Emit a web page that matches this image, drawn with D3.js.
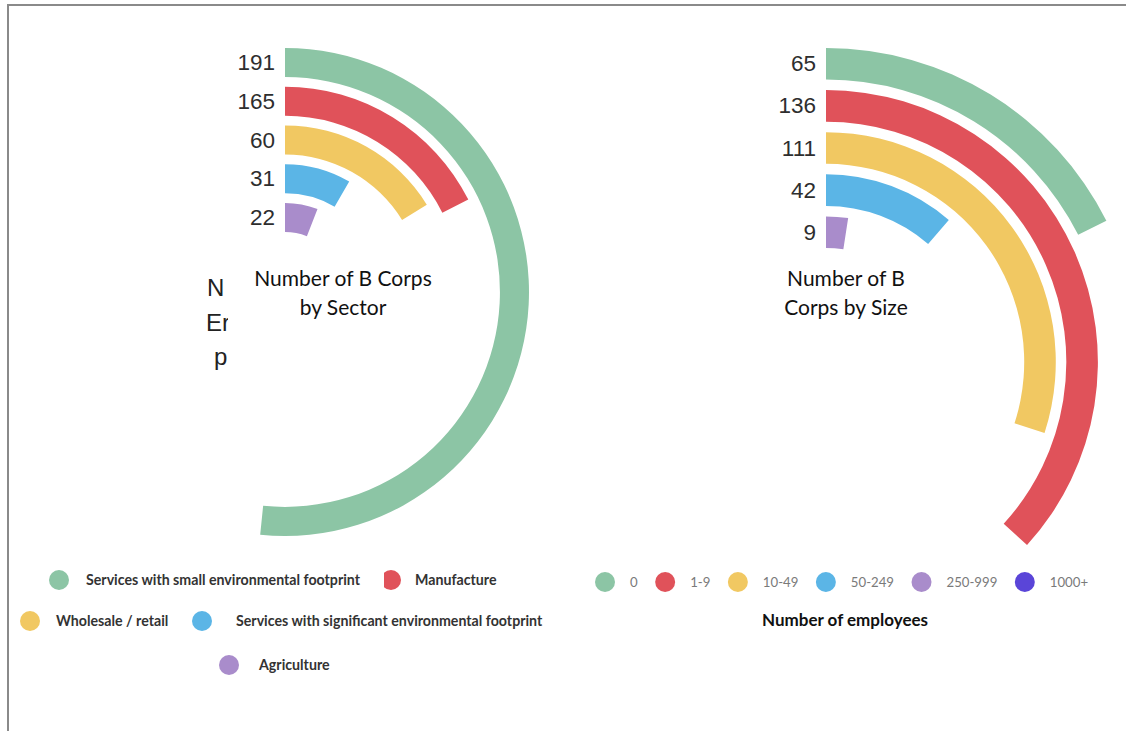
<!DOCTYPE html>
<html>
<head>
<meta charset="utf-8">
<script src="https://cdn.jsdelivr.net/npm/d3@7"></script>
<style>
  html, body { margin: 0; padding: 0; background: #fff; }
  svg { display: block; }
</style>
</head>
<body>
<svg id="chart" width="1126" height="731"></svg>
<script>
// ---- data ----
const sectorNames = ["Services with small environmental footprint", "Manufacture", "Wholesale / retail", "Services with significant environmental footprint", "Agriculture"];
const sectorLabels = ["191", "165", "60", "31", "22"];
// arc lengths as drawn in the picture (the red arc is drawn much shorter than its label)
const sectorValues = [191, 65, 60, 31, 22];

const sizeNames = ["0", "1-9", "10-49", "50-249", "250-999"];
const sizeLabels = ["65", "136", "111", "42", "9"];
const sizeValues = [65, 136, 111, 42, 9];

const sizeLegend = ["0", "1-9", "10-49", "50-249", "250-999", "1000+"];
const palette = ["#8cc5a5", "#e0525a", "#f1c862", "#5bb5e6", "#a98ccb", "#5a45d8"];

// ---- layout ----
const svg = d3.select("#chart");
const angle = d3.scaleLinear().domain([0, 370]).range([0, 2 * Math.PI]);

// frame
svg.append("line").attr("x1", 8).attr("x2", 1126).attr("y1", 5).attr("y2", 5)
  .attr("stroke", "#8a8a8a").attr("stroke-width", 2);
svg.append("line").attr("x1", 8).attr("x2", 8).attr("y1", 4).attr("y2", 731)
  .attr("stroke", "#8a8a8a").attr("stroke-width", 2);

function radial(cfg) {
  const g = svg.append("g").attr("transform", `translate(${cfg.cx},${cfg.cy})`);
  const r = d3.scaleBand().domain(cfg.names).range([cfg.rOuter, cfg.rInner]).paddingInner(cfg.pad);
  const arc = d3.arc()
    .innerRadius((d, i) => r(cfg.names[i]))
    .outerRadius((d, i) => r(cfg.names[i]) + r.bandwidth())
    .startAngle(0)
    .endAngle(d => angle(d));
  g.selectAll("path.bar").data(cfg.values).join("path")
    .attr("class", "bar")
    .attr("d", (d, i) => arc(d, i))
    .attr("fill", (d, i) => palette[i]);
  g.selectAll("text.val").data(cfg.labels).join("text")
    .attr("class", "val")
    .attr("x", -10)
    .attr("y", (d, i) => -(r(cfg.names[i]) + r.bandwidth() / 2))
    .attr("text-anchor", "end")
    .attr("dominant-baseline", "central")
    .attr("font-family", "Liberation Sans, Arial, sans-serif")
    .attr("font-size", 22.5)
    .attr("fill", "#2e2e2e")
    .text(d => d);
  return g;
}

radial({ cx: 285, cy: 292, rOuter: 244, rInner: 60, pad: 0.25, names: sectorNames, values: sectorValues, labels: sectorLabels });
radial({ cx: 826, cy: 362, rOuter: 314, rInner: 114, pad: 0.25, names: sizeNames, values: sizeValues, labels: sizeLabels });

// center titles
const titleFont = "Lato, 'Open Sans', sans-serif";
function lines(x, y0, arr, dy) {
  arr.forEach((t, i) => {
    svg.append("text").attr("x", x).attr("y", y0 + i * dy)
      .attr("text-anchor", "middle").attr("font-family", titleFont)
      .attr("font-size", 21).attr("fill", "#111").text(t);
  });
}
lines(343, 286, ["Number of B Corps", "by Sector"], 29);
lines(846, 286, ["Number of B", "Corps by Size"], 29);

// clipped fragments behind the left chart
svg.append("clipPath").attr("id", "fragClip").append("rect")
  .attr("x", 195).attr("y", 260).attr("width", 33).attr("height", 120);
const frag = svg.append("g").attr("clip-path", "url(#fragClip)");
[["N", 207, 296], ["Er", 206, 331], ["p", 214, 365]].forEach(([t, x, y]) => {
  frag.append("text").attr("x", x).attr("y", y)
    .attr("font-family", "Liberation Sans, Arial, sans-serif")
    .attr("font-size", 24).attr("fill", "#222").text(t);
});

// left legend
const legFont = "Lato, 'Open Sans', sans-serif";
const leftLegend = [
  { i: 0, cx: 59, cy: 580, tx: 86 },
  { i: 1, cx: 391, cy: 580, tx: 415 },
  { i: 2, cx: 30, cy: 621, tx: 56 },
  { i: 3, cx: 202, cy: 621, tx: 236 },
  { i: 4, cx: 229, cy: 665, tx: 259 }
];
svg.append("clipPath").attr("id", "halfClip").append("rect")
  .attr("x", 384).attr("y", 565).attr("width", 30).attr("height", 30);
leftLegend.forEach(d => {
  svg.append("circle").attr("cx", d.cx).attr("cy", d.cy).attr("r", 10)
    .attr("fill", palette[d.i])
    .attr("clip-path", d.i === 1 ? "url(#halfClip)" : null);
  svg.append("text").attr("x", d.tx).attr("y", d.cy - 1)
    .attr("dominant-baseline", "central")
    .attr("font-family", legFont).attr("font-weight", "bold")
    .attr("font-size", 14.2).attr("fill", "#333").text(sectorNames[d.i]);
});

// right legend (flow layout)
const rl = svg.append("g");
let x = 605;
sizeLegend.forEach((lab, i) => {
  rl.append("circle").attr("cx", x).attr("cy", 582).attr("r", 10).attr("fill", palette[i]);
  const t = rl.append("text").attr("x", x + 25).attr("y", 582)
    .attr("dominant-baseline", "central")
    .attr("font-family", legFont).attr("font-size", 13.2)
    .attr("fill", "#7a7a7a").text(lab);
  x = x + 25 + t.node().getComputedTextLength() + 27.5;
});
svg.append("text").attr("x", 845).attr("y", 619)
  .attr("text-anchor", "middle").attr("dominant-baseline", "central")
  .attr("font-family", legFont).attr("font-weight", "bold")
  .attr("font-size", 17).attr("fill", "#111").text("Number of employees");
</script>
</body>
</html>
